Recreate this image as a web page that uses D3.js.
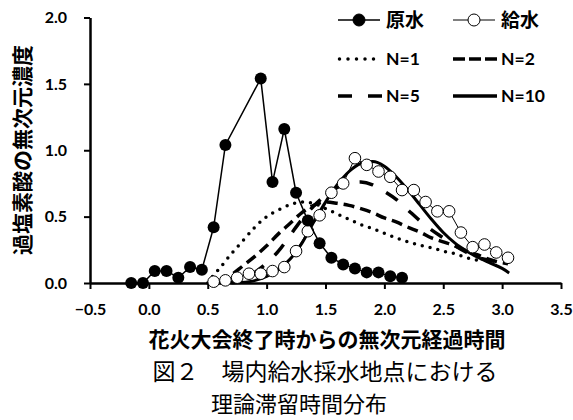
<!DOCTYPE html>
<html><head><meta charset="utf-8">
<script src="https://cdn.jsdelivr.net/npm/d3@7"></script>
<style>
html,body{margin:0;padding:0;background:#fff;}
svg{display:block;}
</style></head><body>
<svg id="chart" width="573" height="420"></svg>
<script>
// 原水 (raw water) measurements
const rawX = [-0.15,-0.05,0.05,0.15,0.25,0.35,0.45,0.55,0.65,0.95,1.05,1.15,1.25,1.35,1.45,1.55,1.65,1.75,1.85,1.95,2.05,2.15];
const rawY = [0,0,0.09,0.09,0.04,0.12,0.10,0.42,1.04,1.54,0.76,1.16,0.68,0.47,0.30,0.19,0.14,0.11,0.08,0.08,0.05,0.04];
// 給水 (supply water) measurements
const feedX = [0.55,0.65,0.75,0.85,0.95,1.05,1.15,1.25,1.35,1.45,1.55,1.65,1.75,1.85,1.95,2.05,2.15,2.25,2.35,2.45,2.55,2.65,2.75,2.85,2.95,3.05];
const feedY = [0.01,0.02,0.04,0.07,0.07,0.09,0.12,0.24,0.39,0.51,0.68,0.75,0.94,0.89,0.84,0.80,0.70,0.70,0.61,0.54,0.54,0.38,0.27,0.29,0.23,0.19];
// theoretical residence-time curves, tanks in series
const n1X = [0.5,0.55,0.6,0.7,0.8,0.9,1.0,1.1,1.2,1.3,1.4,1.5,1.6,1.7,1.8,1.9,2.0,2.1,2.2,2.3,2.4,2.5,2.6,2.7,2.8];
const n1Y = [0,0.06,0.11,0.22,0.32,0.42,0.50,0.55,0.59,0.61,0.60,0.56,0.52,0.48,0.44,0.41,0.375,0.34,0.31,0.285,0.265,0.24,0.22,0.19,0.17];
const n2X = [0.6,0.7,0.8,0.9,1.0,1.1,1.2,1.3,1.4,1.5,1.6,1.7,1.8,1.9,2.0,2.1,2.2,2.3,2.4,2.5,2.6,2.7,2.8,2.9,3.05];
const n2Y = [0,0.06,0.13,0.20,0.28,0.37,0.45,0.53,0.585,0.61,0.60,0.585,0.56,0.53,0.49,0.46,0.42,0.385,0.34,0.31,0.28,0.24,0.21,0.175,0.145];
const n5X = [0.65,0.8,0.9,1.0,1.1,1.2,1.3,1.4,1.5,1.6,1.7,1.8,1.9,2.0,2.1,2.2,2.3,2.4,2.5,2.6,2.7,2.8,2.9,3.05];
const n5Y = [0,0.03,0.08,0.15,0.24,0.36,0.48,0.58,0.66,0.72,0.75,0.76,0.74,0.69,0.63,0.55,0.47,0.40,0.34,0.28,0.23,0.19,0.17,0.145];
const n10X = [0.7,0.85,1.0,1.1,1.2,1.3,1.4,1.5,1.6,1.7,1.8,1.9,2.0,2.1,2.2,2.3,2.4,2.5,2.6,2.7,2.8,2.9,3.0,3.06];
const n10Y = [0,0.01,0.05,0.10,0.18,0.30,0.46,0.61,0.74,0.84,0.90,0.915,0.88,0.80,0.70,0.59,0.48,0.38,0.30,0.24,0.19,0.15,0.11,0.075];
const xTicks = [-0.5,0,0.5,1,1.5,2,2.5,3,3.5];
const yTicks = [0,0.5,1,1.5,2];

const svg = d3.select("#chart");
const x = d3.scaleLinear().domain([-0.5,3.5]).range([90,561]);
const y = d3.scaleLinear().domain([0,2]).range([283,17.5]);

const tickFont = "Lato, 'Noto Sans CJK JP', sans-serif";
const cjkBold = "'Noto Sans CJK JP', sans-serif";

// axes
const xAxis = svg.append("g").attr("transform",`translate(0,${y(0)})`)
  .call(d3.axisBottom(x).tickValues(xTicks).tickFormat(d3.format(".1f")).tickSize(6).tickSizeOuter(0));
const yAxis = svg.append("g").attr("transform",`translate(${x(-0.5)},0)`)
  .call(d3.axisLeft(y).tickValues(yTicks).tickFormat(d3.format(".1f")).tickSize(6).tickSizeOuter(0));
[xAxis,yAxis].forEach(a=>{
  a.select(".domain").attr("stroke","#000").attr("stroke-width",2.5);
  a.selectAll(".tick line").attr("stroke","#000").attr("stroke-width",2);
  a.selectAll(".tick text").attr("fill","#000").attr("font-family",tickFont)
    .attr("font-weight",700).attr("font-size",16);
});
xAxis.selectAll(".tick text").attr("y",21);
yAxis.selectAll(".tick text").attr("x",-23);

// theoretical curves
const curves = [
  {xs:n1X, ys:n1Y, dash:"0,8", cap:"round", w:3.5},
  {xs:n2X, ys:n2Y, dash:"11,6", cap:"butt", w:3.5},
  {xs:n5X, ys:n5Y, dash:"14,15", cap:"butt", w:3.5},
  {xs:n10X, ys:n10Y, dash:null, cap:"butt", w:3}
];
const smooth = d3.line().x(d=>x(d[0])).y(d=>y(d[1])).curve(d3.curveMonotoneX);
curves.forEach(c=>{
  svg.append("path").datum(d3.zip(c.xs,c.ys)).attr("d",smooth)
    .attr("fill","none").attr("stroke","#000").attr("stroke-width",c.w)
    .attr("stroke-linecap",c.cap).attr("stroke-dasharray",c.dash);
});

// measured series
const straight = d3.line().x(d=>x(d[0])).y(d=>y(d[1]));
const feed = d3.zip(feedX,feedY);
svg.append("path").datum(feed).attr("d",straight).attr("fill","none").attr("stroke","#000").attr("stroke-width",1);
svg.append("g").selectAll("circle").data(feed).join("circle")
  .attr("cx",d=>x(d[0])).attr("cy",d=>y(d[1])).attr("r",5.8)
  .attr("fill","#fff").attr("stroke","#000").attr("stroke-width",1);
const raw = d3.zip(rawX,rawY);
svg.append("path").datum(raw).attr("d",straight).attr("fill","none").attr("stroke","#000").attr("stroke-width",1.5);
svg.append("g").selectAll("circle").data(raw).join("circle")
  .attr("cx",d=>x(d[0])).attr("cy",d=>y(d[1])).attr("r",6)
  .attr("fill","#000");

// legend
const legend = [
  {label:"原水", lx:338, ly:20, marker:"filled"},
  {label:"給水", lx:453, ly:20, marker:"open"},
  {label:"N=1", lx:338, ly:59, dash:"0,8.5", cap:"round"},
  {label:"N=2", lx:453, ly:59, dash:"12,4", cap:"butt"},
  {label:"N=5", lx:338, ly:96, dash:"14,16", cap:"butt"},
  {label:"N=10", lx:453, ly:96, dash:null, cap:"butt"}
];
legend.forEach(l=>{
  const g = svg.append("g");
  if(l.marker){
    g.append("line").attr("x1",l.lx).attr("x2",l.lx+42).attr("y1",l.ly).attr("y2",l.ly)
      .attr("stroke","#000").attr("stroke-width",l.marker==="filled"?1.5:1);
    g.append("circle").attr("cx",l.lx+21).attr("cy",l.ly).attr("r",6)
      .attr("fill",l.marker==="filled"?"#000":"#fff").attr("stroke","#000").attr("stroke-width",1);
  } else {
    g.append("line").attr("x1",l.lx+(l.cap==="round"?1.5:0)).attr("x2",l.lx+44).attr("y1",l.ly).attr("y2",l.ly)
      .attr("stroke","#000").attr("stroke-width",3.5).attr("stroke-linecap",l.cap)
      .attr("stroke-dasharray",l.dash);
  }
  g.append("text").attr("x",l.lx+48).attr("y",l.ly).attr("dy","0.36em")
    .attr("font-family",l.marker?cjkBold:tickFont).attr("font-weight",700)
    .attr("font-size",l.marker?19:17.5).text(l.label);
});

// axis titles
svg.append("text").attr("x",327).attr("y",340).attr("dy","0.35em")
  .attr("text-anchor","middle").attr("font-family",cjkBold).attr("font-weight",700)
  .attr("font-size",21).text("花火大会終了時からの無次元経過時間");
svg.append("text").attr("transform","translate(23,150) rotate(-90)").attr("dy","0.35em")
  .attr("text-anchor","middle").attr("font-family",cjkBold).attr("font-weight",700)
  .attr("font-size",21).text("過塩素酸の無次元濃度");

// figure caption
svg.append("text").attr("x",325).attr("y",372).attr("dy","0.35em")
  .attr("text-anchor","middle").attr("font-family","'Noto Sans CJK JP', sans-serif")
  .attr("font-size",23).text("図２　場内給水採水地点における");
svg.append("text").attr("x",299).attr("y",404).attr("dy","0.35em")
  .attr("text-anchor","middle").attr("font-family","'Noto Sans CJK JP', sans-serif")
  .attr("font-size",22).text("理論滞留時間分布");
</script>
</body></html>
